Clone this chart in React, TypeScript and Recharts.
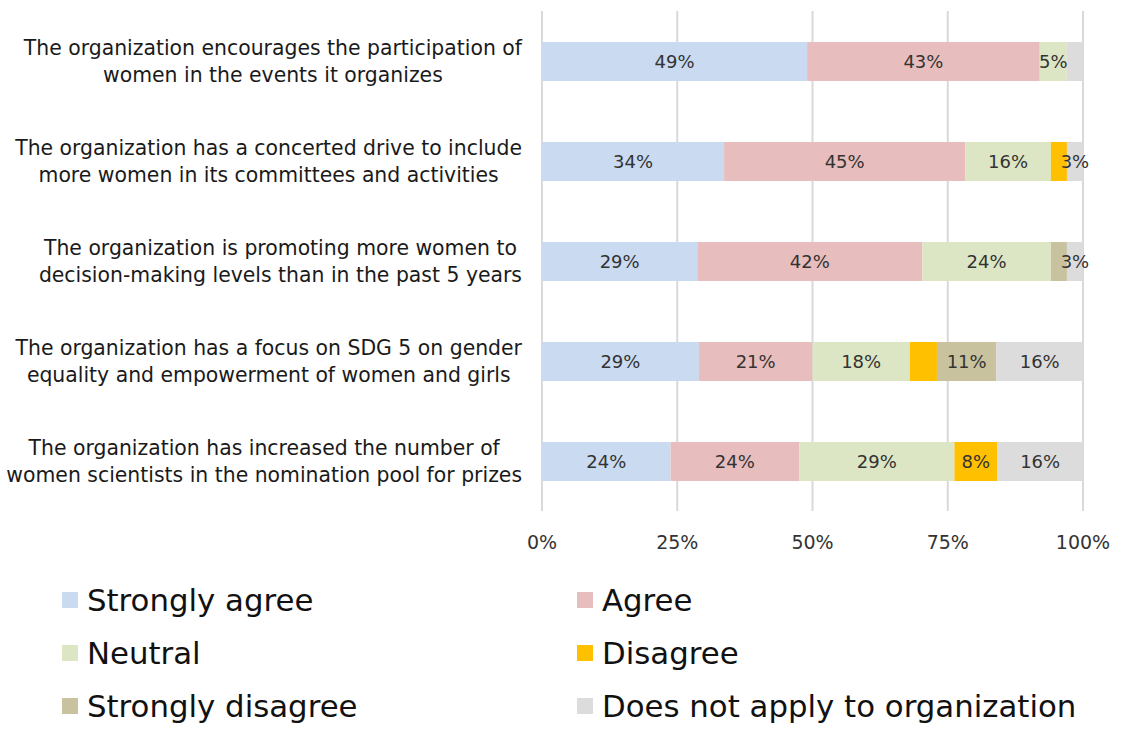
import React from "react";
import { BarChart, Bar, XAxis, YAxis, CartesianGrid, LabelList, Legend } from "recharts";

const categoryLines: string[][] = [
  ["The organization encourages the participation of", "women in the events it organizes"],
  ["The organization has a concerted drive to include", "more women in its committees and activities"],
  ["The organization is promoting more women to", "decision-making levels than in the past 5 years"],
  ["The organization has a focus on SDG 5 on gender", "equality and empowerment of women and girls"],
  ["The organization has increased the number of", "women scientists in the nomination pool for prizes"],
];
const categories = categoryLines.map((l) => l.join(" "));

const stronglyAgree = [49, 34, 29, 29, 24];
const agree = [43, 45, 42, 21, 24];
const neutral = [5, 16, 24, 18, 29];
const disagree = [0, 3, 0, 5, 8];
const stronglyDisagree = [0, 0, 3, 11, 0];
const notApply = [3, 3, 3, 16, 16];

// cells whose data label is not shown in the original
const hiddenLabels: [string, number][] = [
  ["notApply", 0],
  ["disagree", 1],
  ["stronglyDisagree", 2],
  ["disagree", 3],
];

const xTicks = [0, 0.25, 0.5, 0.75, 1];

const FONT = "'DejaVu Sans', sans-serif";
const FONT_NAME = "'DejaVu Sans'";

const seriesDefs = [
  { key: "stronglyAgree", name: "Strongly agree", values: stronglyAgree, color: "#C9DAF1" },
  { key: "agree", name: "Agree", values: agree, color: "#E8BDBD" },
  { key: "neutral", name: "Neutral", values: neutral, color: "#DCE6C4" },
  { key: "disagree", name: "Disagree", values: disagree, color: "#FFC000" },
  { key: "stronglyDisagree", name: "Strongly disagree", values: stronglyDisagree, color: "#C8C29E" },
  { key: "notApply", name: "Does not apply to organization", values: notApply, color: "#DCDCDC" },
];

const isHidden = (key: string, i: number) => hiddenLabels.some(([k, r]) => k === key && r === i);

const data = categories.map((c, i) => {
  const row: any = { category: c };
  seriesDefs.forEach((s) => {
    row[s.key] = s.values[i];
    row[s.key + "Label"] = s.values[i] > 0 && !isHidden(s.key, i) ? `${s.values[i]}%` : "";
  });
  return row;
});

let canvasCtx: CanvasRenderingContext2D | null = null;
const measure = (text: string, font: string) => {
  if (!canvasCtx) {
    const c = document.createElement("canvas");
    canvasCtx = c.getContext("2d");
  }
  if (!canvasCtx) return text.length * 10;
  canvasCtx.font = font;
  return canvasCtx.measureText(text).width;
};

const CAT_SIZE = 20.4;

const CategoryTick = (props: any) => {
  const { y, payload } = props;
  const idx = categories.indexOf(payload.value);
  const lines = idx >= 0 ? categoryLines[idx] : [String(payload.value)];
  const widths = lines.map((l) => measure(l, `${CAT_SIZE}px ${FONT_NAME}`));
  const maxW = Math.max(...widths);
  const right = 522;
  const cx = right - maxW / 2;
  const lh = 27;
  return (
    <g>
      {lines.map((l, i) => (
        <text
          key={i}
          x={cx}
          y={y + (i - (lines.length - 1) / 2) * lh}
          textAnchor="middle"
          dominantBaseline="central"
          fontFamily={FONT}
          fontSize={CAT_SIZE}
          fill="#1a1a1a"
        >
          {l}
        </text>
      ))}
    </g>
  );
};

const LegendContent = () => {
  const cols = [62, 577];
  const rows = [600, 653, 706];
  return (
    <div style={{ position: "relative", width: 1129, height: 160 }}>
      {seriesDefs.map((s, i) => {
        const col = i % 2;
        const row = Math.floor(i / 2);
        const top = rows[row] - 570;
        return (
          <div
            key={s.key}
            style={{
              position: "absolute",
              left: cols[col],
              top: top - 20,
              height: 40,
              display: "flex",
              alignItems: "center",
              whiteSpace: "nowrap",
            }}
          >
            <span style={{ display: "inline-block", width: 16, height: 16, background: s.color, marginRight: 9 }} />
            <span style={{ fontFamily: FONT, fontSize: 30.8, color: "#111" }}>{s.name}</span>
          </div>
        );
      })}
    </div>
  );
};

export default function App() {
  return (
    <div style={{ position: "absolute", left: 0, top: 0, width: 1129, height: 731, background: "#fff" }}>
      <BarChart
        width={1129}
        height={731}
        data={data}
        layout="vertical"
        stackOffset="expand"
        margin={{ top: 11, right: 46, bottom: 170, left: 0 }}
        barSize={39}
      >
        <CartesianGrid horizontal={false} stroke="#D9D9D9" strokeWidth={2} />
        <XAxis
          type="number"
          domain={[0, 1]}
          ticks={xTicks}
          tickFormatter={(v: number) => `${Math.round(v * 100)}%`}
          axisLine={false}
          tickLine={false}
          tickMargin={19}
          height={50}
          tick={{ fontFamily: FONT, fontSize: 19, fill: "#333" }}
          interval={0}
        />
        <YAxis
          type="category"
          dataKey="category"
          width={542}
          axisLine={false}
          tickLine={false}
          tick={<CategoryTick />}
          interval={0}
        />
        <Legend
          layout="horizontal"
          verticalAlign="middle"
          align="center"
          wrapperStyle={{ position: "absolute", top: 570, left: 0, width: 1129 }}
          content={<LegendContent />}
        />
        {seriesDefs.map((s) => (
          <Bar key={s.key} dataKey={s.key} name={s.name} stackId="a" fill={s.color} isAnimationActive={false}>
            <LabelList
              dataKey={s.key + "Label"}
              position="center"
              fill="#333"
              fontFamily={FONT}
              fontSize={18}
            />
          </Bar>
        ))}
      </BarChart>
    </div>
  );
}
